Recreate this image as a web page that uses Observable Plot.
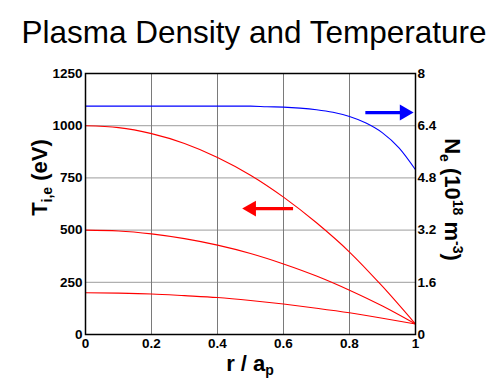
<!DOCTYPE html>
<html>
<head>
<meta charset="utf-8">
<script src="https://cdn.jsdelivr.net/npm/d3@7"></script>
<script src="https://cdn.jsdelivr.net/npm/@observablehq/plot@0.6"></script>
<style>
  body { margin: 0; background: white; font-family: "Liberation Sans", Arial, sans-serif; }
  #title { box-sizing: border-box; height: 55px; padding-top: 17px; padding-left: 15px; font-size: 31.5px; line-height: 31px; text-align: center; color: #000; white-space: nowrap; }
  #chart svg { display: block; }
</style>
</head>
<body>
<div id="title">Plasma Density and Temperature</div>
<div id="chart"></div>
<script>
// ---- data ----
const radius = [0, 0.1, 0.2, 0.3, 0.4, 0.5, 0.6, 0.7, 0.8, 0.9, 1.0];
const tempHigh = [1000, 991, 962, 915, 848, 763, 658, 535, 395, 230, 50];
const tempMid  = [500, 496, 482, 459, 428, 388, 338, 280, 212, 136, 50];
const tempLow  = [200, 198, 194, 186, 177, 163, 146, 126, 104, 78, 50];

const radiusDense = [0, 0.1, 0.2, 0.3, 0.4, 0.5, 0.55, 0.6, 0.65, 0.7, 0.75, 0.8, 0.85, 0.9, 0.95, 1.0];
const density = [7.0, 7.0, 7.0, 7.0, 7.0, 7.0, 6.98, 6.97, 6.94, 6.89, 6.81, 6.68, 6.48, 6.18, 5.72, 5.05];

const xTicks = [0, 0.2, 0.4, 0.6, 0.8, 1];
const tempTicks = [0, 250, 500, 750, 1000, 1250];
const densTicks = [0, 1.6, 3.2, 4.8, 6.4, 8];

// annotation arrows (x in r/a_p, y in eV): density arrow points right, temperature arrow points left
const densArrow = { tail: 0.848, tip: 0.994, y: 1063, color: "#0000ff" };
const tempArrow = { tail: 0.629, tip: 0.475, y: 603, color: "#ff0000" };

// ---- density mapped onto the temperature axis ----
const K = 1250 / 8;
const densityScaled = density.map(d => d * K);

const HEAD = 0.035; // head length in r units
const arrowMarks = (a, dir) => [
  Plot.link([a], { x1: d => d.tail, x2: d => d.tip - dir * HEAD, y1: d => d.y, y2: d => d.y, stroke: a.color, strokeWidth: 3.3 }),
  Plot.dot([a], { x: d => d.tip, y: d => d.y, symbol: "triangle", r: 5.9, fill: a.color, stroke: "none",
    rotate: dir > 0 ? 90 : -90, dx: -dir * 9.1 })
];

const chart = Plot.plot({
  width: 493,
  height: 326,
  marginTop: 18,
  marginBottom: 47,
  marginLeft: 85,
  marginRight: 78,
  x: { domain: [0, 1] },
  y: { domain: [0, 1250] },
  style: { fontFamily: "'Liberation Sans', Arial, sans-serif", fontSize: "13.5px", fontWeight: "bold", color: "#000", background: "white" },
  marks: [
    Plot.ruleY(tempTicks.slice(1, -1), { stroke: "#b0b0b0", strokeWidth: 1.2 }),
    Plot.ruleX(xTicks.slice(1, -1), { stroke: "#7a7a7a", strokeWidth: 1 }),
    Plot.line(tempHigh, { x: radius, y: d => d, stroke: "#ff0000", strokeWidth: 1.1, curve: "monotone-x" }),
    Plot.line(tempMid, { x: radius, y: d => d, stroke: "#ff0000", strokeWidth: 1.1, curve: "monotone-x" }),
    Plot.line(tempLow, { x: radius, y: d => d, stroke: "#ff0000", strokeWidth: 1.1, curve: "monotone-x" }),
    Plot.line(densityScaled, { x: radiusDense, y: d => d, stroke: "#0000ff", strokeWidth: 1.1, curve: "monotone-x" }),
    ...arrowMarks(densArrow, 1),
    ...arrowMarks(tempArrow, -1),
    Plot.frame({ stroke: "#000", strokeWidth: 1.5 }),
    Plot.axisX({ ticks: xTicks, tickSize: 0, tickPadding: 4, label: null, tickFormat: d => String(d) }),
    Plot.axisY({ ticks: tempTicks, tickSize: 0, tickPadding: 3, label: null, tickFormat: d => String(d) }),
    Plot.axisY({ anchor: "right", ticks: densTicks.map(d => d * K), tickSize: 0, tickPadding: 2, label: null,
      tickFormat: d => String(+(d / K).toFixed(1)) })
  ]
});
document.getElementById("chart").appendChild(chart);

// axis titles with sub/superscripts
const svg = d3.select(chart);
const font = "'Liberation Sans', Arial, sans-serif";

const yl = svg.append("text")
  .attr("transform", "translate(47,122.5) rotate(-90)")
  .attr("text-anchor", "middle")
  .attr("font-family", font).attr("font-weight", "bold").attr("font-size", 22).attr("fill", "#000");
yl.append("tspan").text("T");
yl.append("tspan").attr("font-size", 14).attr("dy", 5).text("i,e");
yl.append("tspan").attr("dy", -5).text(" (eV)");

const yr = svg.append("text")
  .attr("transform", "translate(445,144.5) rotate(90)")
  .attr("text-anchor", "middle")
  .attr("font-family", font).attr("font-weight", "bold").attr("font-size", 22).attr("fill", "#000");
yr.append("tspan").text("N");
yr.append("tspan").attr("font-size", 14).attr("dy", 5).text("e");
yr.append("tspan").attr("dy", -5).text(" (10");
yr.append("tspan").attr("font-size", 14).attr("dy", -8).text("18");
yr.append("tspan").attr("dy", 8).text(" m");
yr.append("tspan").attr("font-size", 14).attr("dy", -8).text("-3");
yr.append("tspan").attr("dy", 8).text(")");

const xl = svg.append("text")
  .attr("x", 250).attr("y", 316)
  .attr("text-anchor", "middle")
  .attr("font-family", font).attr("font-weight", "bold").attr("font-size", 22).attr("fill", "#000");
xl.append("tspan").text("r / a");
xl.append("tspan").attr("font-size", 14).attr("dy", 4).text("p");
</script>
</body>
</html>
